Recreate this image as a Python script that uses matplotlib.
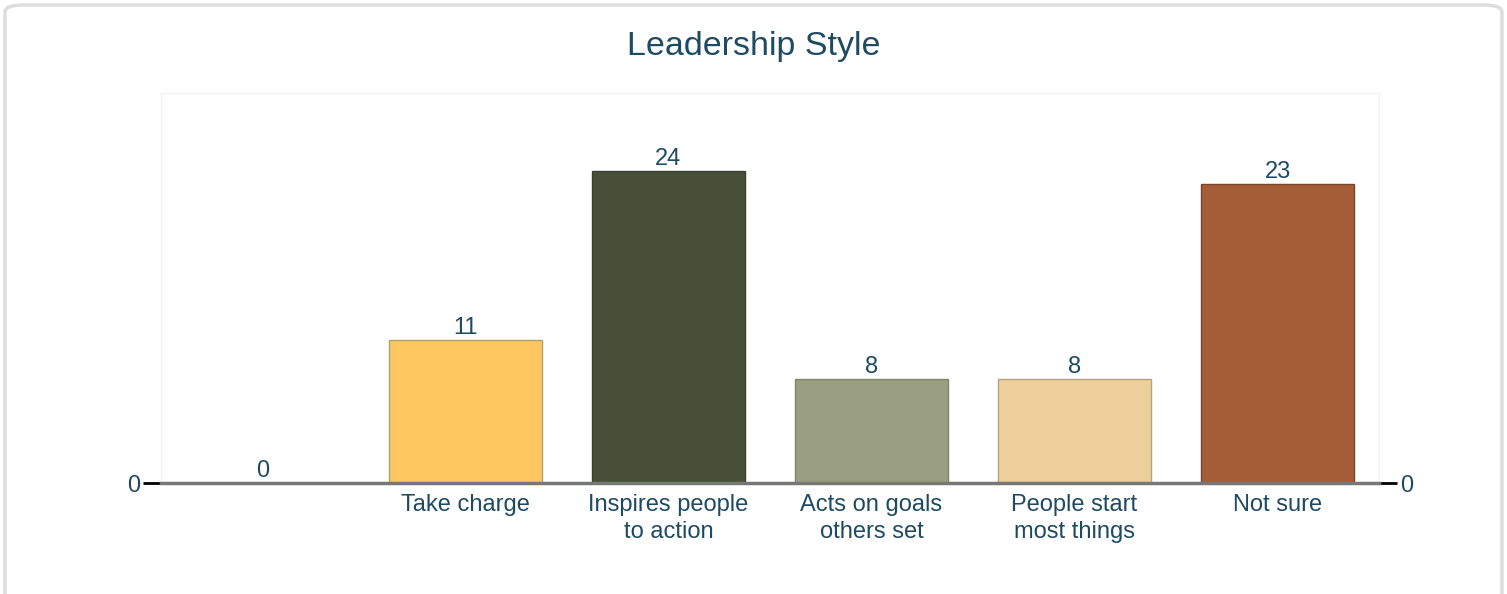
import matplotlib.pyplot as plt
from matplotlib.patches import FancyBboxPatch

categories = ['', 'Take charge', 'Inspires people\nto action', 'Acts on goals\nothers set',
              'People start\nmost things', 'Not sure']
values = [0, 11, 24, 8, 8, 23]
bar_colors = ['#ffffff', '#fec760', '#475037', '#9a9f81', '#edcf9b', '#a45d36']
edge_colors = ['none', '#b0a070', '#3a4030', '#7f846b', '#b8a27c', '#7a4428']

text_color = '#1e4a62'
plt.rcParams['font.family'] = ['Liberation Sans', 'DejaVu Sans']

fig = plt.figure(figsize=(15.07, 5.94), dpi=100)

# outer rounded frame
frame = FancyBboxPatch((5 / 1507, -0.05), 1497 / 1507, 1.05 - 5 / 594,
                       boxstyle='round,pad=0,rounding_size=0.012',
                       transform=fig.transFigure, facecolor='white',
                       edgecolor='#dddddd', linewidth=2.5, zorder=-5)
fig.patches.append(frame)

ax = fig.add_axes([161 / 1507, 111 / 594, 1218 / 1507, 390 / 594])
ax.set_facecolor('none')
ax.set_zorder(2)

x = range(len(categories))
ax.bar(x, values, width=0.75, color=bar_colors, edgecolor=edge_colors, linewidth=1, zorder=2)

for xi, v in zip(x, values):
    ax.text(xi, v + 0.05, str(v), ha='center', va='bottom', fontsize=17, color=text_color)

ax.set_xlim(-0.5, len(categories) - 0.5)
ax.set_ylim(0, 30)

for side in ['top', 'left', 'right']:
    ax.spines[side].set_color('#f3f3f3')
    ax.spines[side].set_linewidth(1)
ax.spines['bottom'].set_color('#777777')
ax.spines['bottom'].set_linewidth(2.5)
ax.spines['bottom'].set_zorder(3)

ax.set_xticks(list(x))
ax.set_xticklabels(categories, fontsize=17, color=text_color, linespacing=1.28)
ax.tick_params(axis='x', length=0, pad=8)

ax.set_yticks([0])
ax.set_yticklabels(['0'], fontsize=17, color=text_color)
ax.tick_params(axis='y', left=True, right=True, labelleft=True, labelright=True,
               length=13, width=2, color='black', pad=2)

fig.text(0.5, 1 - 47 / 594, 'Leadership Style', ha='center', va='center',
         fontsize=24.5, color=text_color)

fig.savefig('out.png', dpi=100)
